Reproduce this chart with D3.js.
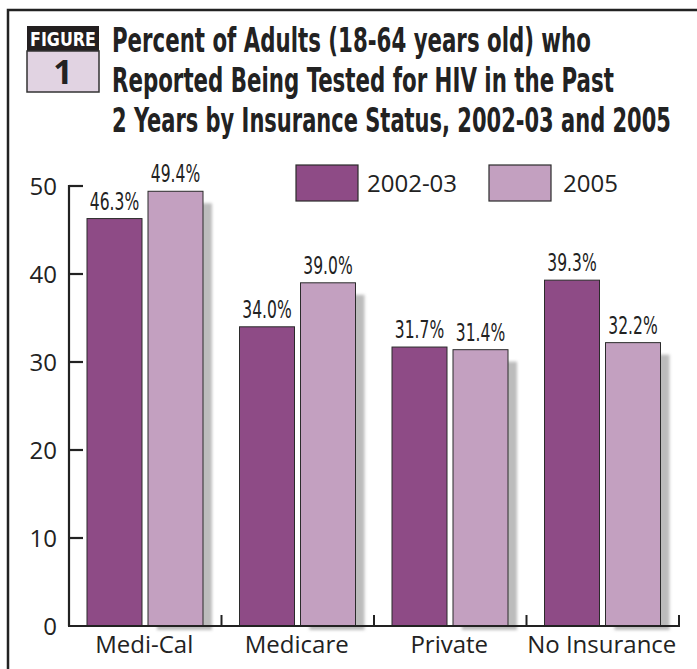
<!DOCTYPE html>
<html>
<head>
<meta charset="utf-8">
<script src="https://cdn.jsdelivr.net/npm/d3@7"></script>
<style>
  html, body { margin: 0; padding: 0; background: #fff; }
  svg { display: block; }
</style>
</head>
<body>
<svg id="chart" width="697" height="669"></svg>
<script>
// ---------------------------------------------------------
// FIGURE 1 — HIV testing by insurance status, 2002-03 vs 2005
// ---------------------------------------------------------

const categories = ["Medi-Cal", "Medicare", "Private", "No Insurance"];
const series     = ["2002-03", "2005"];
const values0203 = [46.3, 34.0, 31.7, 39.3];
const values2005 = [49.4, 39.0, 31.4, 32.2];
const yTicks     = [0, 10, 20, 30, 40, 50];
const titleLines = [
  "Percent of Adults (18-64 years old) who",
  "Reported Being Tested for HIV in the Past",
  "2 Years by Insurance Status, 2002-03 and 2005"
];

const DARK  = "#8e4b86";
const LIGHT = "#c3a0c0";
const INK   = "#222";
const SANS  = "'Open Sans', 'Noto Sans', sans-serif";
const NARROW = "'DejaVu Sans Condensed', 'DejaVu Sans', sans-serif";

const svg = d3.select("#chart");

// squeeze a text horizontally so it spans `width` px from its anchor
function fitWidth(sel, x, y, width, anchor) {
  sel.each(function () {
    const len = this.getComputedTextLength();
    const k = Math.min(1, width / len);
    d3.select(this)
      .attr("text-anchor", anchor)
      .attr("transform", `translate(${x},${y}) scale(${k},1)`);
  });
}

// blurred drop shadow for the light bars
const defs = svg.append("defs");
defs.append("filter")
  .attr("id", "blur")
  .attr("x", "-20%").attr("y", "-20%")
  .attr("width", "140%").attr("height", "140%")
  .append("feGaussianBlur")
  .attr("stdDeviation", 1.6);

// -------------------------------------------------------
// FRAME + HEADER
// -------------------------------------------------------
svg.append("rect")
  .attr("x", 8).attr("y", 10)
  .attr("width", 720).attr("height", 720)
  .attr("fill", "none")
  .attr("stroke", INK)
  .attr("stroke-width", 2.5);

svg.append("rect")
  .attr("x", 27).attr("y", 26)
  .attr("width", 72).attr("height", 25)
  .attr("fill", "#231f20");

svg.append("rect")
  .attr("x", 27).attr("y", 51)
  .attr("width", 72).attr("height", 41)
  .attr("fill", "#e1d3e2")
  .attr("stroke", "#333")
  .attr("stroke-width", 1.5);

svg.append("text")
  .attr("font-family", NARROW)
  .attr("font-weight", "bold")
  .attr("font-size", 20)
  .attr("fill", "#fff")
  .text("FIGURE")
  .call(fitWidth, 63, 46, 66, "middle");

svg.append("text")
  .attr("x", 63).attr("y", 84)
  .attr("text-anchor", "middle")
  .attr("font-family", SANS)
  .attr("font-weight", "bold")
  .attr("font-size", 34)
  .attr("fill", INK)
  .text("1");

const titleWidths = [479, 502, 559];
svg.append("g")
  .selectAll("text")
  .data(titleLines)
  .join("text")
  .attr("font-family", NARROW)
  .attr("font-weight", "bold")
  .attr("font-size", 33)
  .attr("fill", INK)
  .text(d => d)
  .each(function (d, i) {
    d3.select(this).call(fitWidth, 112, 52 + i * 40, titleWidths[i], "start");
  });

// -------------------------------------------------------
// SCALES
// -------------------------------------------------------
const x = d3.scaleBand()
  .domain(categories)
  .range([69, 679]);

const xInner = d3.scaleBand()
  .domain(series)
  .range([18, 134])
  .paddingInner(2 - 116 / 61);

const y = d3.scaleLinear()
  .domain([0, 50])
  .range([626, 186]);

const rows = categories.map((c, i) => ({
  cat: c,
  bars: [
    { s: series[0], v: values0203[i] },
    { s: series[1], v: values2005[i] }
  ]
}));

// -------------------------------------------------------
// SHADOWS (behind light bars)
// -------------------------------------------------------
svg.append("g")
  .selectAll("rect")
  .data(rows)
  .join("rect")
  .attr("x", d => x(d.cat) + xInner(series[1]) + 9)
  .attr("y", d => y(d.bars[1].v) + 12)
  .attr("width", xInner.bandwidth())
  .attr("height", d => y(0) - y(d.bars[1].v) - 8)
  .attr("fill", "#bcbcbc")
  .attr("filter", "url(#blur)");

// -------------------------------------------------------
// BARS
// -------------------------------------------------------
const groups = svg.append("g")
  .selectAll("g")
  .data(rows)
  .join("g")
  .attr("transform", d => `translate(${x(d.cat)},0)`);

groups.selectAll("rect")
  .data(d => d.bars)
  .join("rect")
  .attr("x", d => xInner(d.s))
  .attr("y", d => y(d.v))
  .attr("width", xInner.bandwidth())
  .attr("height", d => y(0) - y(d.v))
  .attr("fill", d => d.s === series[0] ? DARK : LIGHT)
  .attr("stroke", "#2b2b2b")
  .attr("stroke-width", 1);

// condensed value labels: squeeze the glyphs horizontally
groups.selectAll("text")
  .data(d => d.bars)
  .join("text")
  .attr("transform", d =>
    `translate(${xInner(d.s) + xInner.bandwidth() / 2},${y(d.v) - 9}) scale(0.72,1)`)
  .attr("text-anchor", "middle")
  .attr("font-family", NARROW)
  .attr("font-size", 24)
  .attr("fill", INK)
  .text(d => d.v.toFixed(1) + "%");

// -------------------------------------------------------
// AXES
// -------------------------------------------------------
const yAxis = svg.append("g");

yAxis.append("line")
  .attr("x1", 69).attr("x2", 69)
  .attr("y1", y(50) - 1).attr("y2", y(0))
  .attr("stroke", INK).attr("stroke-width", 2.2);

yAxis.selectAll("line.tick")
  .data(yTicks.filter(t => t > 0))
  .join("line")
  .attr("class", "tick")
  .attr("x1", 69).attr("x2", 83)
  .attr("y1", d => y(d)).attr("y2", d => y(d))
  .attr("stroke", INK).attr("stroke-width", 2.2);

yAxis.selectAll("text")
  .data(yTicks)
  .join("text")
  .attr("x", 57)
  .attr("y", d => y(d))
  .attr("dy", "0.36em")
  .attr("text-anchor", "end")
  .attr("font-family", SANS)
  .attr("font-size", 24)
  .attr("fill", INK)
  .text(d => d);

const xAxis = svg.append("g");

xAxis.append("line")
  .attr("x1", 68).attr("x2", 680)
  .attr("y1", y(0)).attr("y2", y(0))
  .attr("stroke", INK).attr("stroke-width", 2.2);

xAxis.selectAll("line.sep")
  .data(categories.slice(1).map(c => x(c)).concat([x.range()[1]]))
  .join("line")
  .attr("class", "sep")
  .attr("x1", d => d).attr("x2", d => d)
  .attr("y1", y(0) - 11).attr("y2", y(0))
  .attr("stroke", INK).attr("stroke-width", 2);

xAxis.selectAll("text")
  .data(categories)
  .join("text")
  .attr("x", d => x(d) + x.bandwidth() / 2 - 1)
  .attr("y", 653)
  .attr("text-anchor", "middle")
  .attr("font-family", SANS)
  .attr("font-size", 24)
  .attr("fill", INK)
  .text(d => d);

// -------------------------------------------------------
// LEGEND
// -------------------------------------------------------
const legendX = [296, 489];
const legend = svg.append("g")
  .selectAll("g")
  .data(series)
  .join("g")
  .attr("transform", (d, i) => `translate(${legendX[i]},165)`);

legend.append("rect")
  .attr("width", 62).attr("height", 36)
  .attr("fill", (d, i) => i === 0 ? DARK : LIGHT)
  .attr("stroke", "#2b2b2b")
  .attr("stroke-width", 1.2);

legend.append("text")
  .attr("x", (d, i) => i === 0 ? 71 : 74)
  .attr("y", 27)
  .attr("font-family", SANS)
  .attr("font-size", 24)
  .attr("fill", INK)
  .text(d => d);
</script>
</body>
</html>
